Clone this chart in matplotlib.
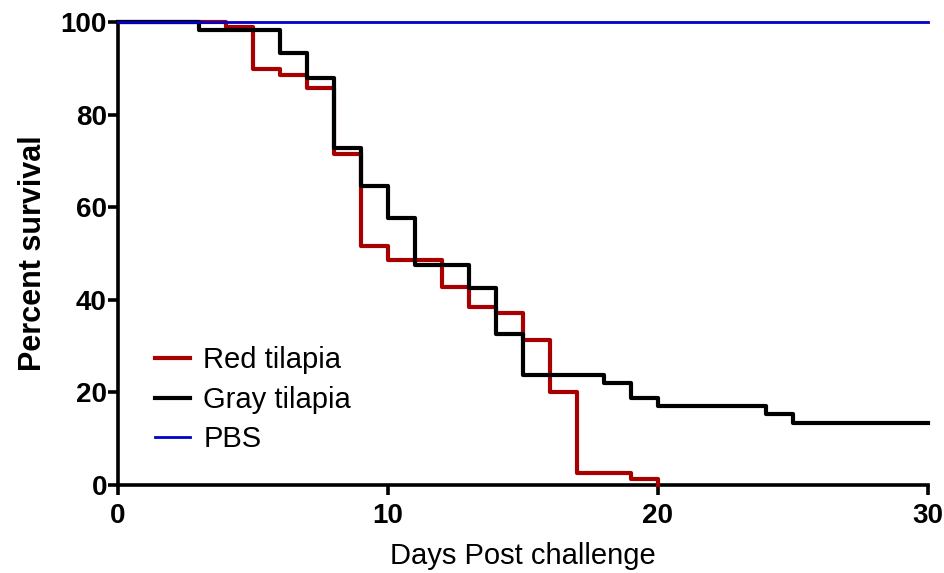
import matplotlib
matplotlib.use('Agg')
import matplotlib.pyplot as plt

plt.rcParams['font.family'] = ['Liberation Sans', 'DejaVu Sans']

# survival steps (day, percent)
red_days = [0, 4, 5, 6, 7, 8, 9, 10, 12, 13, 14, 15, 16, 17, 19, 20]
red_surv = [100, 98.9, 89.8, 88.6, 85.7, 71.5, 51.6, 48.6, 42.8, 38.4, 37.1, 31.3, 20.1, 2.6, 1.3, 0]

gray_days = [0, 3, 6, 7, 8, 9, 10, 11, 13, 14, 15, 18, 19, 20, 24, 25, 30]
gray_surv = [100, 98.3, 93.3, 87.9, 72.8, 64.6, 57.7, 47.5, 42.5, 32.6, 23.8, 22.0, 18.8, 17.1, 15.3, 13.4, 13.4]

pbs_days = [0, 30]
pbs_surv = [100, 100]

fig = plt.figure(figsize=(9.45, 5.73), dpi=100)
ax = fig.add_axes([118 / 945, 1 - 485 / 573, 810 / 945, 463 / 573])

ax.step(red_days, red_surv, where='post', color='#a80000', lw=3.0,
        label='Red tilapia', clip_on=False, zorder=4)
ax.step(gray_days, gray_surv, where='post', color='black', lw=3.0,
        label='Gray tilapia', clip_on=False, zorder=5)
ax.step(pbs_days, pbs_surv, where='post', color='#0000c8', lw=2.0,
        label='PBS', clip_on=False, zorder=6)

ax.set_xlim(0, 30)
ax.set_ylim(0, 100)
ax.set_xticks([0, 10, 20, 30])
ax.set_yticks([0, 20, 40, 60, 80, 100])

for side in ['top', 'right']:
    ax.spines[side].set_visible(False)
for side in ['left', 'bottom']:
    ax.spines[side].set_linewidth(2.6)
ax.tick_params(width=2.6, length=7, labelsize=20)
ax.tick_params(axis='x', pad=6)
ax.tick_params(axis='y', pad=1)
for lab in ax.get_xticklabels() + ax.get_yticklabels():
    lab.set_fontweight('bold')

ax.set_xlabel('Days Post challenge', fontsize=21, labelpad=9)
ax.set_ylabel('Percent survival', fontsize=22, fontweight='bold', labelpad=9)

ax.legend(loc='center left', bbox_to_anchor=(0.046, 0.184), frameon=False,
          borderpad=0, borderaxespad=0,
          fontsize=21, handlelength=1.2, handletextpad=0.45, labelspacing=0.4)

fig.savefig('out.png', dpi=100)
